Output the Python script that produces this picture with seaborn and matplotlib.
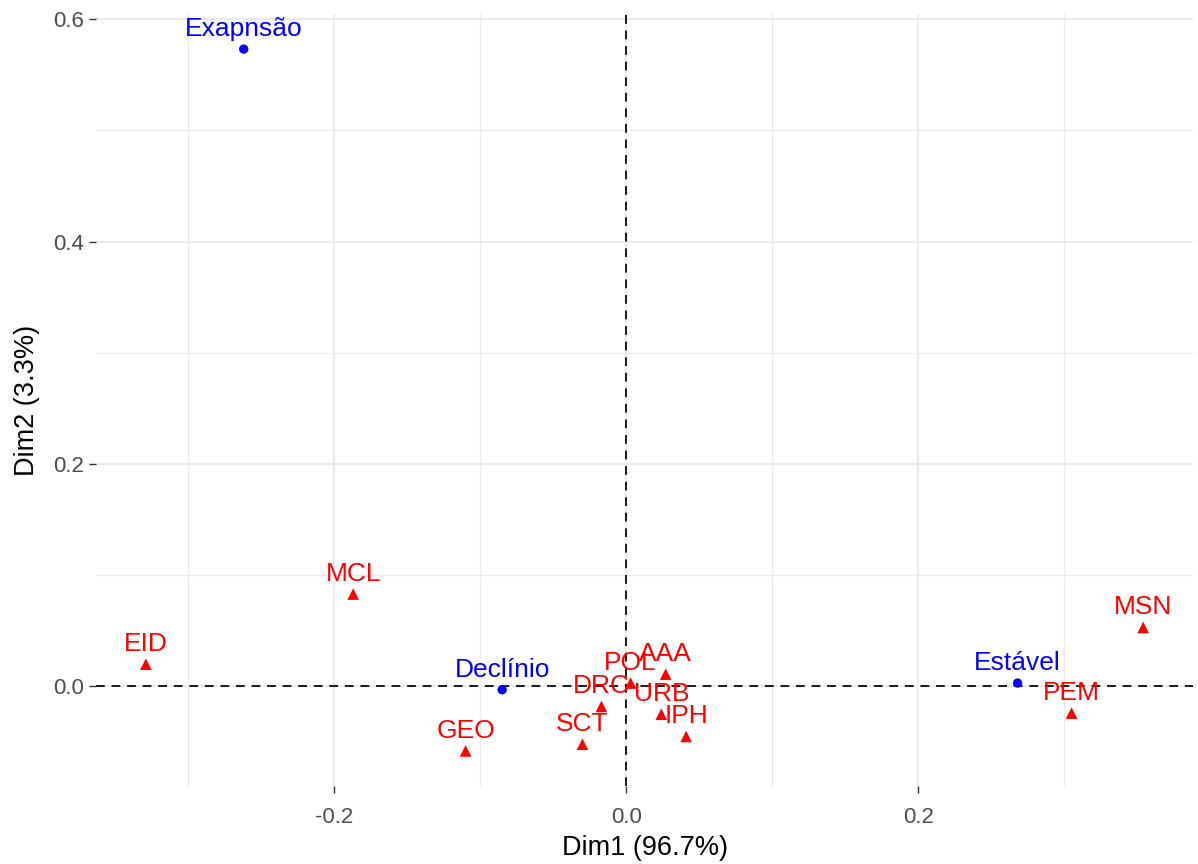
import numpy as np
import pandas as pd
import matplotlib
matplotlib.use("Agg")
import matplotlib.pyplot as plt
from matplotlib.ticker import FixedLocator, FormatStrFormatter
import seaborn as sns

# Row categories (population trend) - CA coordinates
row_labels = ["Exapnsão", "Declínio", "Estável"]
row_dim1 = [-0.262, -0.085, 0.268]
row_dim2 = [0.573, -0.003, 0.003]

# Column categories (threats) - CA coordinates
col_labels = ["EID", "MCL", "GEO", "SCT", "DRC", "POL", "AAA", "URB", "IPH", "PEM", "MSN"]
col_dim1 = [-0.329, -0.187, -0.110, -0.030, -0.017, 0.003, 0.027, 0.024, 0.041, 0.305, 0.354]
col_dim2 = [0.020, 0.083, -0.058, -0.052, -0.018, 0.003, 0.011, -0.025, -0.045, -0.024, 0.053]

x_title = "Dim1 (96.7%)"
y_title = "Dim2 (3.3%)"

rows = pd.DataFrame({"label": row_labels, "Dim1": row_dim1, "Dim2": row_dim2})
cols = pd.DataFrame({"label": col_labels, "Dim1": col_dim1, "Dim2": col_dim2})

sns.set_theme(style="white")
plt.rcParams["font.family"] = ["Liberation Sans", "DejaVu Sans"]
plt.rcParams["axes.unicode_minus"] = False

fig = plt.figure(figsize=(11.98, 8.64), dpi=100)
ax = fig.add_axes([96 / 1198, 1 - 786 / 864, (1193 - 96) / 1198, (786 - 14) / 864])

# Grid (major + minor), drawn under everything
ax.set_axisbelow(True)
for s in ax.spines.values():
    s.set_visible(False)

# Reference lines at the origin
ax.axhline(0, color="#1a1a1a", lw=1.4, ls=(0, (4.5, 3.5)), zorder=2)
ax.axvline(0, color="#1a1a1a", lw=1.4, ls=(0, (4.5, 3.5)), zorder=2)

sns.scatterplot(data=rows, x="Dim1", y="Dim2", color="#0000FF", marker="o",
                s=45, edgecolor="none", ax=ax, zorder=3, legend=False)
sns.scatterplot(data=cols, x="Dim1", y="Dim2", color="#FF0000", marker="^",
                s=70, edgecolor="none", ax=ax, zorder=3, legend=False)

for df, colr in ((rows, "#0000FF"), (cols, "#FF0000")):
    for _, r in df.iterrows():
        ax.annotate(r["label"], (r["Dim1"], r["Dim2"]), xytext=(0, 9.5),
                    textcoords="offset points", ha="center", va="baseline",
                    fontsize=19, color=colr, zorder=4)

# Limits: data range expanded by 5% on each side
allx = np.array(row_dim1 + col_dim1)
ally = np.array(row_dim2 + col_dim2)
ex = 0.05 * (allx.max() - allx.min())
ey = 0.05 * (ally.max() - ally.min())
ax.set_xlim(allx.min() - ex, allx.max() + ex)
ax.set_ylim(ally.min() - ey, ally.max() + ey)

ax.xaxis.set_major_locator(FixedLocator([-0.2, 0.0, 0.2]))
ax.xaxis.set_minor_locator(FixedLocator([-0.3, -0.1, 0.1, 0.3]))
ax.yaxis.set_major_locator(FixedLocator([0.0, 0.2, 0.4, 0.6]))
ax.yaxis.set_minor_locator(FixedLocator([0.1, 0.3, 0.5]))
ax.xaxis.set_major_formatter(FormatStrFormatter("%.1f"))
ax.yaxis.set_major_formatter(FormatStrFormatter("%.1f"))

ax.grid(which="major", color="#EBEBEB", lw=1.5)
ax.grid(which="minor", color="#EBEBEB", lw=1.0)

ax.tick_params(axis="both", which="major", length=5, width=1.0, color="#333333",
               labelsize=16, labelcolor="#4D4D4D", bottom=True, left=True)
ax.tick_params(axis="x", which="major", pad=10)
ax.tick_params(axis="y", which="major", pad=4)
ax.tick_params(axis="both", which="minor", length=0)

ax.set_xlabel(x_title, fontsize=19.5, color="black")
ax.set_ylabel(y_title, fontsize=19.5, color="black")
ax.xaxis.set_label_coords(0.5, -62 / 772)
ax.xaxis.label.set_va("center")
ax.yaxis.set_label_coords(-69 / 1097, 0.5)
ax.yaxis.label.set_va("center")

fig.savefig("out.png", dpi=100, facecolor="white")
